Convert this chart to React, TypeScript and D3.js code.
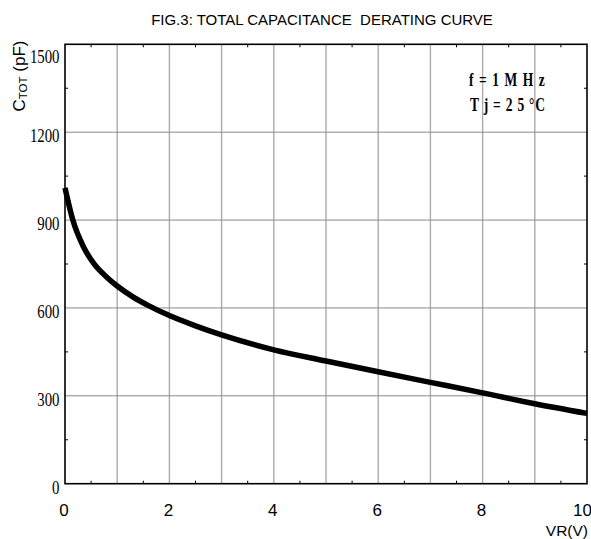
import React from "react";
import * as d3 from "d3";

const voltage = [0, 0.15, 0.35, 0.55, 0.8, 1, 1.3, 1.6, 2, 2.5, 3, 4, 5, 6, 7, 8, 9, 10];
const capacitance = [1010, 900, 810, 752, 705, 675, 638, 608, 574, 539, 508, 457, 419, 382, 346, 310, 273, 240];
const xTicks = [0, 2, 4, 6, 8, 10];
const xGrid = [1, 2, 3, 4, 5, 6, 7, 8, 9];
const yTicks = [0, 300, 600, 900, 1200, 1500];
const yGrid = [300, 600, 900, 1200];
const xMinor = d3.range(0.5, 10, 1);
const yMinor = d3.range(150, 1500, 300);

const W = 591;
const H = 539;
const L = 65, R = 587, T = 44.3, B = 483.7;

export default function App() {
  const x = d3.scaleLinear().domain([0, 10]).range([L, R]);
  const y = d3.scaleLinear().domain([0, 1500]).range([B, T]);
  const pts = voltage.map((v, i) => [v, capacitance[i]] as [number, number]);
  const line = d3
    .line<[number, number]>()
    .x((d) => x(d[0]))
    .y((d) => y(d[1]))
    .curve(d3.curveMonotoneX);

  return (
    <svg
      width={W}
      height={H}
      style={{ position: "absolute", left: 0, top: 0, background: "#fff" }}
    >
      <rect x={0} y={0} width={W} height={H} fill="#fff" />
      <text
        x={322}
        y={25}
        textAnchor="middle"
        fontFamily="Liberation Sans, Arial, sans-serif"
        fontSize={15}
        fill="#000"
      >
        FIG.3: TOTAL CAPACITANCE{"\u00a0 "}DERATING CURVE
      </text>

      {xGrid.map((v) => (
        <line key={"xg" + v} x1={x(v)} x2={x(v)} y1={T} y2={B} stroke="#ababab" strokeWidth={1.4} />
      ))}
      {yGrid.map((v) => (
        <line key={"yg" + v} x1={L} x2={R} y1={y(v)} y2={y(v)} stroke="#8a8a8a" strokeWidth={1} />
      ))}

      {xMinor.map((v) => (
        <g key={"xm" + v}>
          <line x1={x(v)} x2={x(v)} y1={B} y2={B - 3} stroke="#000" strokeWidth={1} />
          <line x1={x(v)} x2={x(v)} y1={T} y2={T + 3} stroke="#000" strokeWidth={1} />
        </g>
      ))}
      {yMinor.map((v) => (
        <g key={"ym" + v}>
          <line x1={L} x2={L + 3} y1={y(v)} y2={y(v)} stroke="#000" strokeWidth={1} />
          <line x1={R} x2={R - 3} y1={y(v)} y2={y(v)} stroke="#000" strokeWidth={1} />
        </g>
      ))}

      <rect x={L} y={T} width={R - L} height={B - T} fill="none" stroke="#000" strokeWidth={1.6} />

      <path d={line(pts) || ""} fill="none" stroke="#000" strokeWidth={5.5} />

      {yTicks.map((v) => {
        const yy = Math.max(y(v) + 10, T + 19);
        return (
          <text
            key={"yt" + v}
            transform={`translate(59.5,${yy}) scale(0.8,1)`}
            textAnchor="end"
            fontFamily="Liberation Serif, Times New Roman, serif"
            fontSize={18.5}
            fill="#000"
          >
            {v}
          </text>
        );
      })}

      {xTicks.map((v) => (
        <text
          key={"xt" + v}
          x={Math.min(x(v) - 1, W - 8.5)}
          y={516}
          textAnchor="middle"
          fontFamily="Liberation Sans, Arial, sans-serif"
          fontSize={17}
          fill="#000"
        >
          {v}
        </text>
      ))}

      <text
        x={588}
        y={536}
        textAnchor="end"
        fontFamily="Liberation Sans, Arial, sans-serif"
        fontSize={15.5}
        fill="#000"
      >
        VR(V)
      </text>

      <text
        transform="translate(25,76) rotate(-90)"
        textAnchor="middle"
        fontFamily="Liberation Sans, Arial, sans-serif"
        fontSize={17}
        fill="#000"
      >
        C<tspan fontSize={11.5} dy={2}>TOT</tspan>
        <tspan dy={-2}> (pF)</tspan>
      </text>

      <text
        transform="translate(469,86) scale(0.75,1)"
        fontFamily="Liberation Serif, Times New Roman, serif"
        fontWeight="bold"
        fontSize={18}
        textLength={101}
        lengthAdjust="spacing"
        fill="#000"
      >
        f = 1 M H z
      </text>
      <text
        transform="translate(470,111) scale(0.75,1)"
        fontFamily="Liberation Serif, Times New Roman, serif"
        fontWeight="bold"
        fontSize={18}
        textLength={100}
        lengthAdjust="spacing"
        fill="#000"
      >
        T j = 2 5 °C
      </text>
    </svg>
  );
}
